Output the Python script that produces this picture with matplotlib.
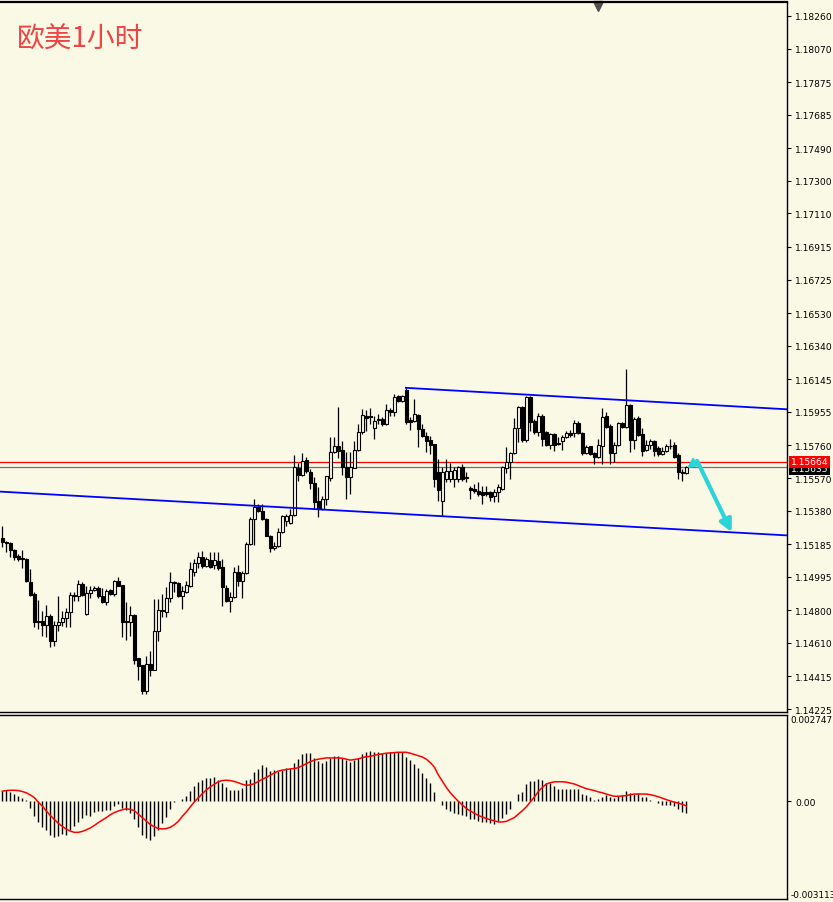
import numpy as np
import matplotlib.pyplot as plt

BG = '#FAF9E6'
CYAN = '#2BD4D9'

# EURUSD H1 candles
OPENS = [
    1.15219, 1.15199, 1.15190, 1.15151, 1.15114, 1.15104, 1.15098, 1.14963, 1.14895, 1.14738,
    1.14738, 1.14716, 1.14767, 1.14623, 1.14714, 1.14730, 1.14753, 1.14788, 1.14889, 1.14881,
    1.14951, 1.14778, 1.14899, 1.14918, 1.14930, 1.14881, 1.14846, 1.14918, 1.14895, 1.14968,
    1.14947, 1.14738, 1.14730, 1.14772, 1.14522, 1.14481, 1.14332, 1.14485, 1.14454, 1.14677,
    1.14802, 1.14788, 1.14869, 1.14959, 1.14959, 1.14881, 1.14904, 1.14943, 1.15021, 1.15075,
    1.15108, 1.15060, 1.15093, 1.15065, 1.15089, 1.15050, 1.14930, 1.14852, 1.14875, 1.15021,
    1.14968, 1.15017, 1.15184, 1.15331, 1.15399, 1.15376, 1.15331, 1.15234, 1.15160, 1.15176,
    1.15256, 1.15322, 1.15309, 1.15357, 1.15629, 1.15588, 1.15675, 1.15605, 1.15540, 1.15439,
    1.15390, 1.15448, 1.15573, 1.15720, 1.15759, 1.15734, 1.15633, 1.15574, 1.15629, 1.15736,
    1.15836, 1.15933, 1.15933, 1.15860, 1.15914, 1.15914, 1.15885, 1.15968, 1.15953, 1.16046,
    1.16017, 1.16085, 1.15910, 1.15900, 1.15937, 1.15856, 1.15813, 1.15794, 1.15768, 1.15603,
    1.15435, 1.15565, 1.15565, 1.15565, 1.15565, 1.15633, 1.15574, 1.15514, 1.15507, 1.15493,
    1.15487, 1.15487, 1.15487, 1.15464, 1.15487, 1.15506, 1.15626, 1.15662, 1.15714, 1.15859,
    1.15982, 1.15794, 1.16040, 1.15904, 1.15836, 1.15929, 1.15836, 1.15762, 1.15826, 1.15774,
    1.15788, 1.15807, 1.15832, 1.15832, 1.15890, 1.15832, 1.15716, 1.15755, 1.15714, 1.15695,
    1.15755, 1.15929, 1.15875, 1.15716, 1.15764, 1.15890, 1.15865, 1.15997, 1.15794, 1.15918,
    1.15826, 1.15733, 1.15764, 1.15788, 1.15743, 1.15710, 1.15730, 1.15759, 1.15762, 1.15704,
    1.15599, 1.15599,
]
HIGHS = [
    1.15289, 1.15205, 1.15195, 1.15157, 1.15127, 1.15151, 1.15102, 1.15040, 1.14904, 1.14860,
    1.14798, 1.14833, 1.14778, 1.14739, 1.14881, 1.14794, 1.14813, 1.14904, 1.14908, 1.14976,
    1.14963, 1.14943, 1.14943, 1.14939, 1.14939, 1.14928, 1.14924, 1.14924, 1.14976, 1.14992,
    1.14947, 1.14846, 1.14827, 1.14778, 1.14522, 1.14481, 1.14536, 1.14561, 1.14866, 1.14866,
    1.14895, 1.14933, 1.15021, 1.14972, 1.14963, 1.14943, 1.14972, 1.15079, 1.15098, 1.15137,
    1.15147, 1.15108, 1.15137, 1.15137, 1.15137, 1.15098, 1.14947, 1.14904, 1.15050, 1.15063,
    1.15030, 1.15195, 1.15341, 1.15448, 1.15418, 1.15418, 1.15335, 1.15238, 1.15195, 1.15277,
    1.15355, 1.15359, 1.15390, 1.15704, 1.15656, 1.15716, 1.15691, 1.15623, 1.15574, 1.15516,
    1.15468, 1.15584, 1.15807, 1.15807, 1.15982, 1.15788, 1.15720, 1.15720, 1.15788, 1.15885,
    1.15972, 1.15968, 1.15976, 1.15933, 1.15943, 1.15924, 1.16001, 1.15976, 1.16059, 1.16054,
    1.16054, 1.16092, 1.15924, 1.16030, 1.15943, 1.15885, 1.15836, 1.15817, 1.15768, 1.15681,
    1.15633, 1.15681, 1.15656, 1.15633, 1.15642, 1.15652, 1.15603, 1.15522, 1.15536, 1.15545,
    1.15526, 1.15522, 1.15497, 1.15507, 1.15536, 1.15642, 1.15749, 1.15720, 1.15918, 1.15991,
    1.15991, 1.16050, 1.16046, 1.15914, 1.15949, 1.15943, 1.15846, 1.15832, 1.15832, 1.15807,
    1.15821, 1.15846, 1.15850, 1.15910, 1.15904, 1.15836, 1.15762, 1.15759, 1.15720, 1.15797,
    1.15976, 1.15953, 1.15885, 1.15782, 1.15898, 1.15898, 1.16205, 1.16001, 1.15924, 1.15929,
    1.15859, 1.15792, 1.15797, 1.15794, 1.15755, 1.15749, 1.15768, 1.15797, 1.15778, 1.15714,
    1.15623, 1.15642,
]
LOWS = [
    1.15166, 1.15137, 1.15108, 1.15095, 1.15089, 1.15044, 1.14964, 1.14885, 1.14705, 1.14691,
    1.14652, 1.14642, 1.14588, 1.14590, 1.14681, 1.14710, 1.14701, 1.14701, 1.14856, 1.14856,
    1.14885, 1.14772, 1.14869, 1.14910, 1.14873, 1.14842, 1.14831, 1.14889, 1.14885, 1.14939,
    1.14642, 1.14629, 1.14648, 1.14487, 1.14394, 1.14313, 1.14313, 1.14419, 1.14454, 1.14623,
    1.14759, 1.14759, 1.14846, 1.14904, 1.14875, 1.14807, 1.14900, 1.14937, 1.15001, 1.15044,
    1.15044, 1.15050, 1.15044, 1.15040, 1.15036, 1.14823, 1.14846, 1.14788, 1.14871, 1.14943,
    1.14869, 1.15011, 1.15180, 1.15180, 1.15370, 1.15327, 1.15230, 1.15137, 1.15153, 1.15166,
    1.15252, 1.15293, 1.15303, 1.15351, 1.15555, 1.15584, 1.15600, 1.15507, 1.15390, 1.15342,
    1.15384, 1.15413, 1.15555, 1.15714, 1.15685, 1.15588, 1.15448, 1.15477, 1.15627, 1.15730,
    1.15827, 1.15842, 1.15885, 1.15798, 1.15885, 1.15871, 1.15879, 1.15933, 1.15933, 1.16011,
    1.16011, 1.15885, 1.15852, 1.15895, 1.15749, 1.15807, 1.15720, 1.15710, 1.15516, 1.15439,
    1.15351, 1.15545, 1.15549, 1.15516, 1.15549, 1.15555, 1.15549, 1.15448, 1.15483, 1.15468,
    1.15419, 1.15468, 1.15439, 1.15433, 1.15429, 1.15503, 1.15598, 1.15565, 1.15710, 1.15778,
    1.15778, 1.15778, 1.15846, 1.15826, 1.15817, 1.15755, 1.15755, 1.15739, 1.15729, 1.15762,
    1.15735, 1.15803, 1.15807, 1.15807, 1.15826, 1.15704, 1.15710, 1.15704, 1.15652, 1.15687,
    1.15652, 1.15859, 1.15652, 1.15665, 1.15759, 1.15861, 1.15861, 1.15724, 1.15739, 1.15817,
    1.15700, 1.15728, 1.15739, 1.15700, 1.15700, 1.15706, 1.15724, 1.15739, 1.15687, 1.15565,
    1.15555, 1.15594,
]
CLOSES = [
    1.15195, 1.15192, 1.15151, 1.15112, 1.15098, 1.15096, 1.14968, 1.14891, 1.14730, 1.14730,
    1.14716, 1.14769, 1.14623, 1.14714, 1.14730, 1.14753, 1.14788, 1.14889, 1.14881, 1.14951,
    1.14891, 1.14899, 1.14918, 1.14930, 1.14881, 1.14846, 1.14910, 1.14895, 1.14968, 1.14943,
    1.14734, 1.14730, 1.14772, 1.14513, 1.14478, 1.14332, 1.14485, 1.14454, 1.14677, 1.14802,
    1.14794, 1.14871, 1.14963, 1.14963, 1.14881, 1.14910, 1.14947, 1.15040, 1.15075, 1.15108,
    1.15060, 1.15098, 1.15054, 1.15093, 1.15044, 1.14933, 1.14852, 1.14875, 1.15021, 1.14968,
    1.15017, 1.15184, 1.15331, 1.15399, 1.15376, 1.15331, 1.15230, 1.15160, 1.15176, 1.15254,
    1.15348, 1.15348, 1.15357, 1.15633, 1.15588, 1.15671, 1.15609, 1.15540, 1.15429, 1.15390,
    1.15448, 1.15580, 1.15720, 1.15755, 1.15730, 1.15633, 1.15574, 1.15633, 1.15736, 1.15836,
    1.15937, 1.15918, 1.15924, 1.15900, 1.15908, 1.15885, 1.15968, 1.15953, 1.16040, 1.16017,
    1.16046, 1.15895, 1.15895, 1.15943, 1.15856, 1.15813, 1.15788, 1.15765, 1.15565, 1.15503,
    1.15603, 1.15609, 1.15609, 1.15619, 1.15633, 1.15565, 1.15569, 1.15503, 1.15495, 1.15478,
    1.15474, 1.15478, 1.15462, 1.15487, 1.15516, 1.15632, 1.15662, 1.15714, 1.15859, 1.15982,
    1.15794, 1.16040, 1.15898, 1.15836, 1.15929, 1.15797, 1.15762, 1.15826, 1.15762, 1.15766,
    1.15807, 1.15832, 1.15821, 1.15890, 1.15832, 1.15716, 1.15749, 1.15710, 1.15695, 1.15762,
    1.15924, 1.15865, 1.15716, 1.15764, 1.15889, 1.15865, 1.15997, 1.15794, 1.15914, 1.15821,
    1.15730, 1.15764, 1.15788, 1.15730, 1.15710, 1.15730, 1.15759, 1.15755, 1.15695, 1.15603,
    1.15603, 1.15632,
]

# MACD histogram and signal line
MACD_HIST = [
    0.00034, 0.00036, 0.00030, 0.00023, 0.00016, 0.00011, 0.00003, -0.00021, -0.00046, -0.00067,
    -0.00083, -0.00092, -0.00108, -0.00113, -0.00112, -0.00104, -0.00106, -0.00090, -0.00080, -0.00066,
    -0.00053, -0.00045, -0.00048, -0.00035, -0.00032, -0.00032, -0.00027, -0.00027, -0.00016, -0.00008,
    -0.00021, -0.00027, -0.00037, -0.00058, -0.00082, -0.00106, -0.00117, -0.00122, -0.00112, -0.00090,
    -0.00069, -0.00051, -0.00024, -0.00002, 0.00002, 0.00008, 0.00018, 0.00034, 0.00048, 0.00062,
    0.00069, 0.00074, 0.00074, 0.00078, 0.00069, 0.00058, 0.00045, 0.00037, 0.00036, 0.00036,
    0.00042, 0.00069, 0.00071, 0.00092, 0.00104, 0.00115, 0.00109, 0.00096, 0.00098, 0.00096,
    0.00101, 0.00106, 0.00106, 0.00122, 0.00133, 0.00152, 0.00154, 0.00154, 0.00138, 0.00127,
    0.00122, 0.00127, 0.00138, 0.00143, 0.00143, 0.00138, 0.00130, 0.00124, 0.00131, 0.00138,
    0.00149, 0.00156, 0.00161, 0.00157, 0.00157, 0.00154, 0.00154, 0.00156, 0.00156, 0.00156,
    0.00156, 0.00140, 0.00130, 0.00119, 0.00106, 0.00090, 0.00074, 0.00058, 0.00030, 0.00000,
    -0.00013, -0.00024, -0.00032, -0.00037, -0.00039, -0.00045, -0.00048, -0.00055, -0.00058, -0.00062,
    -0.00066, -0.00067, -0.00069, -0.00071, -0.00064, -0.00053, -0.00040, -0.00024, 0.00002, 0.00023,
    0.00030, 0.00055, 0.00066, 0.00066, 0.00071, 0.00069, 0.00058, 0.00058, 0.00048, 0.00040,
    0.00039, 0.00039, 0.00039, 0.00039, 0.00040, 0.00023, 0.00019, 0.00013, 0.00005, 0.00007,
    0.00014, 0.00021, 0.00013, 0.00011, 0.00016, 0.00019, 0.00034, 0.00027, 0.00023, 0.00027,
    0.00013, 0.00013, 0.00005, 0.00000, -0.00006, -0.00011, -0.00011, -0.00011, -0.00016, -0.00024,
    -0.00035, -0.00037,
]
MACD_SIGNAL = [
    0.00032, 0.00034, 0.00035, 0.00035, 0.00034, 0.00031, 0.00027, 0.00020, 0.00012, -0.00003,
    -0.00015, -0.00031, -0.00045, -0.00058, -0.00070, -0.00080, -0.00089, -0.00095, -0.00099, -0.00099,
    -0.00096, -0.00091, -0.00085, -0.00077, -0.00068, -0.00060, -0.00052, -0.00043, -0.00036, -0.00031,
    -0.00027, -0.00024, -0.00026, -0.00030, -0.00041, -0.00052, -0.00063, -0.00074, -0.00081, -0.00087,
    -0.00088, -0.00087, -0.00083, -0.00075, -0.00064, -0.00048, -0.00034, -0.00018, -0.00002, 0.00011,
    0.00024, 0.00036, 0.00046, 0.00054, 0.00062, 0.00066, 0.00067, 0.00066, 0.00063, 0.00059,
    0.00054, 0.00051, 0.00052, 0.00056, 0.00063, 0.00070, 0.00076, 0.00083, 0.00090, 0.00096,
    0.00099, 0.00101, 0.00103, 0.00104, 0.00107, 0.00113, 0.00120, 0.00126, 0.00131, 0.00134,
    0.00136, 0.00138, 0.00138, 0.00138, 0.00138, 0.00137, 0.00134, 0.00131, 0.00133, 0.00135,
    0.00139, 0.00142, 0.00143, 0.00146, 0.00149, 0.00151, 0.00153, 0.00154, 0.00155, 0.00156,
    0.00156, 0.00156, 0.00153, 0.00149, 0.00145, 0.00141, 0.00134, 0.00123, 0.00109, 0.00084,
    0.00064, 0.00044, 0.00027, 0.00013, 0.00000, -0.00012, -0.00023, -0.00031, -0.00038, -0.00045,
    -0.00050, -0.00055, -0.00059, -0.00062, -0.00066, -0.00066, -0.00064, -0.00058, -0.00052, -0.00041,
    -0.00030, -0.00018, -0.00002, 0.00013, 0.00031, 0.00044, 0.00055, 0.00059, 0.00062, 0.00062,
    0.00062, 0.00061, 0.00058, 0.00055, 0.00050, 0.00045, 0.00040, 0.00037, 0.00034, 0.00030,
    0.00027, 0.00023, 0.00019, 0.00016, 0.00016, 0.00017, 0.00018, 0.00021, 0.00023, 0.00023,
    0.00023, 0.00023, 0.00021, 0.00018, 0.00014, 0.00010, 0.00005, 0.00001, -0.00003, -0.00006,
    -0.00010, -0.00015,
]

PRICE_TICKS = [1.18260, 1.18070, 1.17875, 1.17685, 1.17490, 1.17300, 1.17110, 1.16915,
               1.16725, 1.16530, 1.16340, 1.16145, 1.15955, 1.15760, 1.15570, 1.15380,
               1.15185, 1.14995, 1.14800, 1.14610, 1.14415, 1.14225]
PRICE_RANGE = (1.14208, 1.18341)
MACD_MAX = 0.002747
MACD_MIN = -0.003113

ASK = 1.15664
BID = 1.15635

# trend channel (bar index, price)
UPPER_CHANNEL_X = [100.9, 196.2]
UPPER_CHANNEL_Y = [1.16095, 1.15970]
LOWER_CHANNEL_X = [-0.6, 196.2]
LOWER_CHANNEL_Y = [1.15491, 1.15236]

# forecast arrows (bar index, price)
ARROW_PIVOT = (173.7, 1.15670)
ARROW_SMALL_TIP = (171.2, 1.15628)
ARROW_BIG_TIP = (182.35, 1.15254)

TITLE = '欧美1小时'


def style_axis(ax):
    ax.set_facecolor(BG)
    ax.spines['left'].set_visible(False)
    for s in ('top', 'right', 'bottom'):
        ax.spines[s].set_color('black')
        ax.spines[s].set_linewidth(1.0)
    ax.yaxis.tick_right()
    ax.tick_params(axis='y', direction='out', length=3, width=0.8, pad=3,
                   labelsize=6.6, colors='black')
    ax.set_xticks([])


def main():
    n = len(CLOSES)
    x = np.arange(n)
    o = np.array(OPENS)
    c = np.array(CLOSES)
    h = np.array(HIGHS)
    l = np.array(LOWS)

    fig = plt.figure(figsize=(8.33, 9.03), dpi=100, facecolor=BG)
    ax = fig.add_axes([0.0, 0.2104, 0.9448, 0.7863])
    ax2 = fig.add_axes([0.0, 0.0033, 0.9448, 0.2038])
    xlim = (-0.575, 196.175)

    # --- price panel ---
    style_axis(ax)
    ax.spines['top'].set_linewidth(1.6)
    ax.set_xlim(*xlim)
    ax.set_ylim(*PRICE_RANGE)
    ax.set_yticks(PRICE_TICKS)
    ax.set_yticklabels(['%.5f' % t for t in PRICE_TICKS])

    ax.vlines(x, l, h, color='black', lw=0.9, zorder=2)
    up = c >= o
    body = np.maximum(np.abs(c - o), 0.000012)
    bottom = np.minimum(o, c)
    ax.bar(x[up], body[up], bottom=bottom[up], width=0.6, facecolor=BG,
           edgecolor='black', linewidth=0.8, zorder=3)
    ax.bar(x[~up], body[~up], bottom=bottom[~up], width=0.6, facecolor='black',
           edgecolor='black', linewidth=0.8, zorder=3)

    ax.axhline(ASK, color='#FF0000', lw=0.9, zorder=1)
    ax.axhline(BID, color='#707070', lw=0.9, zorder=1)

    ax.plot(UPPER_CHANNEL_X, UPPER_CHANNEL_Y, color='#0000FF', lw=1.3, zorder=4)
    ax.plot(LOWER_CHANNEL_X, LOWER_CHANNEL_Y, color='#0000FF', lw=1.3, zorder=4)

    ax.annotate('', xy=ARROW_SMALL_TIP, xytext=ARROW_PIVOT,
                arrowprops=dict(arrowstyle='-|>', color=CYAN, lw=1.5,
                                mutation_scale=14, shrinkA=0, shrinkB=0), zorder=5)
    ax.annotate('', xy=ARROW_BIG_TIP, xytext=ARROW_PIVOT,
                arrowprops=dict(arrowstyle='-|>', color=CYAN, lw=3,
                                mutation_scale=18, shrinkA=0, shrinkB=0), zorder=5)

    tr = ax.get_yaxis_transform()
    ax.text(1.005, BID - 0.00010, '%.5f' % BID, transform=tr, color='white',
            fontsize=6.6, va='center', ha='left', zorder=6,
            bbox=dict(facecolor='black', edgecolor='none', pad=1.2))
    ax.text(1.005, ASK, '%.5f' % ASK, transform=tr, color='white',
            fontsize=6.6, va='center', ha='left', zorder=7,
            bbox=dict(facecolor='#FF0000', edgecolor='none', pad=1.2))

    ax.plot([148.9], [0.994], marker='v', markersize=7, color='#505050',
            transform=ax.get_xaxis_transform(), clip_on=False)

    ax.text(0.022, 0.948, TITLE, transform=ax.transAxes, color='#EE4444',
            fontsize=20, va='center', ha='left',
            family=['Noto Sans CJK SC', 'DejaVu Sans'])

    # --- MACD panel ---
    style_axis(ax2)
    ax2.set_xlim(*xlim)
    ax2.set_ylim(MACD_MIN, MACD_MAX)
    ax2.set_yticks([0.0])
    ax2.set_yticklabels(['0.00'])
    ax2.vlines(x, 0, MACD_HIST, color='black', lw=1.0)
    ax2.plot(x, MACD_SIGNAL, color='#FF0000', lw=1.1)
    tr2 = ax2.get_yaxis_transform()
    ax2.text(1.004, MACD_MAX, '%.6f' % MACD_MAX, transform=tr2, fontsize=6.4,
             va='top', ha='left')
    ax2.text(1.004, MACD_MIN, '%.6f' % MACD_MIN, transform=tr2, fontsize=6.4,
             va='bottom', ha='left')

    fig.savefig('out.png', dpi=100, facecolor=BG)


if __name__ == '__main__':
    main()
